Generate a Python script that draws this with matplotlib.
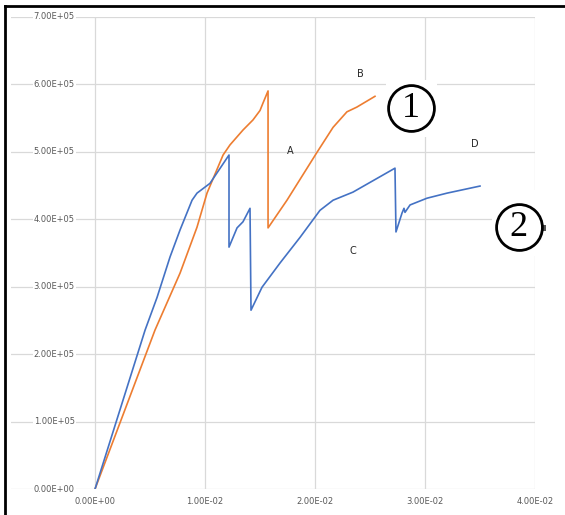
import matplotlib
matplotlib.use("Agg")
import matplotlib.pyplot as plt
from matplotlib.lines import Line2D
from matplotlib.patches import Rectangle

# ---------------- data ----------------
orange_x = [0.0, 0.00545, 0.00773, 0.00927, 0.01018, 0.01164, 0.01227, 0.01345,
            0.01436, 0.0150, 0.01527, 0.01573, 0.01573, 0.01745, 0.02018, 0.02164,
            0.0229, 0.0238, 0.02545]
orange_y = [0.0, 2.355e5, 3.2e5, 3.88e5, 4.385e5, 4.95e5, 5.1e5, 5.32e5,
            5.47e5, 5.61e5, 5.72e5, 5.9e5, 3.87e5, 4.28e5, 4.99e5, 5.36e5,
            5.59e5, 5.66e5, 5.82e5]

blue_x = [0.0, 0.00455, 0.00564, 0.00682, 0.00773, 0.00882, 0.00927, 0.01045,
          0.01218, 0.01218, 0.01291, 0.01345, 0.01409, 0.01418, 0.01518, 0.01682,
          0.01864, 0.02045, 0.02164, 0.02345, 0.02727, 0.02736, 0.02791, 0.02809,
          0.02818, 0.02864, 0.03018, 0.032, 0.035]
blue_y = [0.0, 2.355e5, 2.84e5, 3.44e5, 3.84e5, 4.28e5, 4.385e5, 4.53e5,
          4.95e5, 3.585e5, 3.87e5, 3.96e5, 4.16e5, 2.65e5, 2.99e5, 3.35e5,
          3.73e5, 4.13e5, 4.28e5, 4.4e5, 4.755e5, 3.81e5, 4.09e5, 4.16e5,
          4.1e5, 4.21e5, 4.31e5, 4.385e5, 4.49e5]

x_ticks = [0.0, 0.01, 0.02, 0.03, 0.04]
x_tick_labels = ["0.00E+00", "1.00E-02", "2.00E-02", "3.00E-02", "4.00E-02"]
y_ticks = [0, 1e5, 2e5, 3e5, 4e5, 5e5, 6e5, 7e5]
y_tick_labels = ["0.00E+00", "1.00E+05", "2.00E+05", "3.00E+05",
                 "4.00E+05", "5.00E+05", "6.00E+05", "7.00E+05"]

point_labels = ["A", "B", "C", "D"]
point_label_x = [0.01773, 0.02409, 0.02345, 0.03455]
point_label_y = [5.01e5, 6.15e5, 3.526e5, 5.11e5]

circle_labels = ["1", "2"]
circle_x = [0.02873, 0.0385]
circle_y = [5.644e5, 3.88e5]

# ---------------- figure ----------------
W, H = 565, 515
fig = plt.figure(figsize=(W / 100, H / 100), dpi=100)
fig.patch.set_facecolor("white")

L, R, T, B = 11, 535, 16.7, 489
ax = fig.add_axes([L / W, 1 - B / H, (R - L) / W, (B - T) / H])
ax.set_xlim(-0.00764, 0.04)
ax.set_ylim(0, 7e5)

for s in ax.spines.values():
    s.set_visible(False)

grid_col = "#d9d9d9"
ax.set_xticks(x_ticks)
ax.set_xticklabels(x_tick_labels, fontsize=6, color="#595959")
ax.set_yticks(y_ticks)
ax.set_yticklabels([])
ax.tick_params(axis="both", length=0)
ax.tick_params(axis="x", pad=6)
ax.grid(True, color=grid_col, linewidth=0.9, zorder=0)
ax.set_axisbelow(True)

# y tick labels drawn over the gridlines
for yv, lab in zip(y_ticks, y_tick_labels):
    ax.text(-0.0037, yv, lab, ha="center", va="center", fontsize=6,
            color="#595959", zorder=3,
            bbox=dict(facecolor="white", edgecolor="none", pad=0.6))

ax.plot(orange_x, orange_y, color="#ED7D31", linewidth=1.2, zorder=2)
ax.plot(blue_x, blue_y, color="#4472C4", linewidth=1.2, zorder=2)

for lab, xv, yv in zip(point_labels, point_label_x, point_label_y):
    ax.text(xv, yv, lab, ha="center", va="center", fontsize=7,
            color="#262626", zorder=3)

# white boxes behind the circled numbers
ax.add_patch(Rectangle((0.02645, 5.215e5), 0.00464, 0.845e5, facecolor="white",
                       edgecolor="none", zorder=3, clip_on=False))
ax.add_patch(Rectangle((0.03609, 3.45e5), 0.00509, 0.98e5, facecolor="white",
                       edgecolor="none", zorder=3, clip_on=False))
ax.add_patch(Rectangle((0.04070, 3.82e5), 0.00030, 0.09e5, facecolor="#555555",
                       edgecolor="none", zorder=3, clip_on=False))

for lab, xv, yv in zip(circle_labels, circle_x, circle_y):
    ax.plot([xv], [yv], marker="o", markersize=33, markerfacecolor="white",
            markeredgecolor="black", markeredgewidth=2.0, zorder=4, clip_on=False)
    ax.text(xv, yv, lab, ha="center", va="center", fontsize=26,
            family="Liberation Serif", color="black", zorder=5)

# outer black frame (top and left)
fig.add_artist(Line2D([5 / W, 1], [1 - 6 / H, 1 - 6 / H], color="black",
                      linewidth=2.0, transform=fig.transFigure))
fig.add_artist(Line2D([5 / W, 5 / W], [0, 1 - 6 / H], color="black",
                      linewidth=2.0, transform=fig.transFigure))

fig.savefig("out.png", dpi=100)
